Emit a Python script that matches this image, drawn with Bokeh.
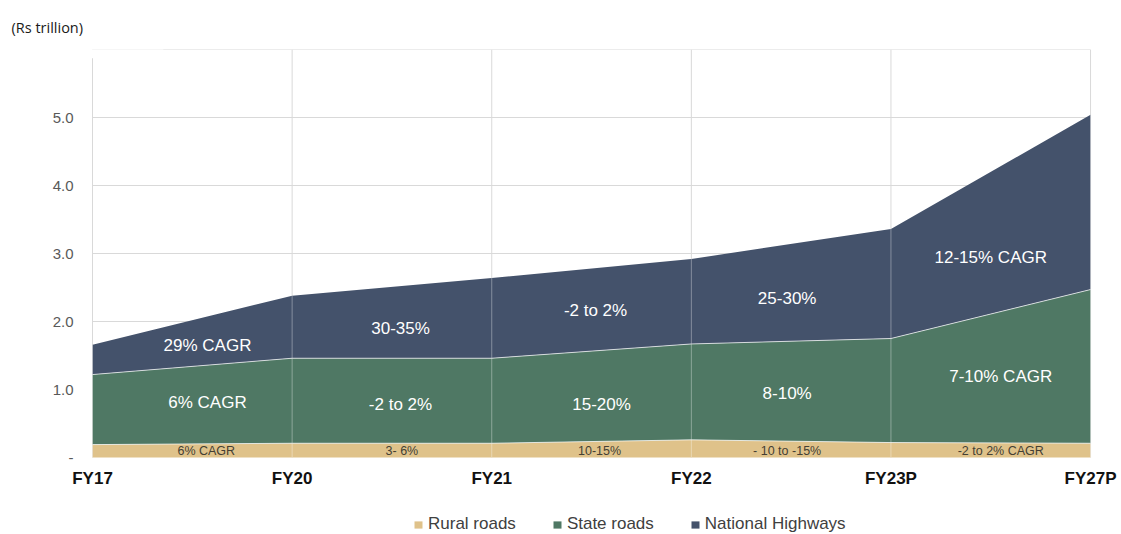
from bokeh.plotting import figure
from bokeh.models import ColumnDataSource, Range1d, Legend, LegendItem, BoxAnnotation
from bokeh.transform import stack
from bokeh.core.properties import value
from bokeh.embed import file_html
from bokeh.resources import INLINE

# ---------------- data ----------------
categories = ["FY17", "FY20", "FY21", "FY22", "FY23P", "FY27P"]
rural = [0.19, 0.21, 0.21, 0.26, 0.22, 0.21]
state = [1.03, 1.25, 1.25, 1.41, 1.53, 2.26]
national = [0.44, 0.92, 1.18, 1.25, 1.61, 2.57]
series_names = ["Rural roads", "State roads", "National Highways"]
national_labels = ["29% CAGR", "30-35%", "-2 to 2%", "25-30%", "12-15% CAGR"]
state_labels = ["6% CAGR", "-2 to 2%", "15-20%", "8-10%", "7-10% CAGR"]
rural_labels = ["6% CAGR", "3- 6%", "10-15%", "- 10 to -15%", "-2 to 2% CAGR"]
y_ticks = [0, 1, 2, 3, 4, 5, 6]
y_tick_labels = ["-", "1.0", "2.0", "3.0", "4.0", "5.0", ""]
unit_label = "(Rs trillion)"

# ---------------- style ----------------
colors = ["#DFC28A", "#4F7864", "#44526B"]
FONT = "Liberation Sans"
GRID = "#d9d9d9"

n = len(categories)
xs = list(range(n))
y_top = y_ticks[-1]
src = ColumnDataSource(dict(x=xs, rural=rural, state=state, national=national))

# frame covers the whole canvas below the title; axes are drawn as text
p = figure(width=1121, height=534, x_range=Range1d(-0.461, 5.155),
           y_range=Range1d(-1.132, y_top), output_backend="svg",
           toolbar_location=None, x_axis_location=None, y_axis_location=None,
           min_border_left=0, min_border_right=0, min_border_top=49,
           min_border_bottom=0)
p.outline_line_color = None
p.grid.visible = False
p.background_fill_color = "white"
p.border_fill_color = "white"

# unit label as left-aligned title
p.title.text = unit_label
p.title.align = "left"
p.title.offset = 11
p.title.standoff = 25
p.title.text_font = "Open Sans"
p.title.text_font_size = "14.5px"
p.title.text_font_style = "normal"
p.title.text_color = "#1a1a1a"

# gridlines
p.segment(x0=xs, y0=[0] * n, x1=xs, y1=[y_top] * n, line_color=GRID, line_width=1)
gy = y_ticks[1:]
p.segment(x0=[0] * len(gy), y0=gy, x1=[n - 1] * len(gy), y1=gy, line_color=GRID, line_width=1)

keys = ["rural", "state", "national"]
areas = p.varea_stack(keys, x="x", source=src, color=colors)

# thin white separators between areas
p.line(x="x", y=stack("rural"), source=src, line_color="white", line_alpha=0.7, line_width=1)
p.line(x="x", y=stack("rural", "state"), source=src, line_color="white", line_alpha=0.7, line_width=1)
# vertical gridlines visible over the fills
p.segment(x0="x", y0=0, x1="x", y1=stack("rural", "state", "national"), source=src,
          line_color="white", line_alpha=0.35, line_width=1)

# in-area labels
mid_nat_x = [0.576, 1.543, 2.52, 3.48, 4.50]
mid_nat_y = [1.65, 1.90, 2.16, 2.34, 2.94]
mid_state_x = [0.576, 1.543, 2.55, 3.48, 4.55]
mid_state_y = [0.81, 0.78, 0.78, 0.94, 1.19]
mid_rural_x = [0.57, 1.55, 2.54, 3.48, 4.55]
mid_rural_y = [0.09] * 5

p.text(x=mid_nat_x + mid_state_x, y=mid_nat_y + mid_state_y,
       text=national_labels + state_labels, text_color="white",
       text_font=value(FONT), text_font_size="17px",
       text_align="center", text_baseline="middle")
p.text(x=mid_rural_x, y=mid_rural_y, text=rural_labels, text_color="#443f33",
       text_font=value(FONT), text_font_size="12.5px",
       text_align="center", text_baseline="middle")

# category labels (x axis)
p.text(x=xs, y=[-0.31] * n, text=categories, text_color="#111111",
       text_font=value(FONT), text_font_size="17px", text_font_style="bold",
       text_align="center", text_baseline="middle")

# value labels (y axis)
p.text(x=[-0.095] * len(y_ticks), y=y_ticks, text=y_tick_labels, text_color="#595959",
       text_font=value(FONT), text_font_size="15px",
       text_align="right", text_baseline="middle")

# cover top-left corner like the reference
p.add_layout(BoxAnnotation(left=-0.2, right=0.355, bottom=5.87, top=6.3,
                           fill_color="white", fill_alpha=1, line_color=None,
                           level="overlay"))

# legend at the bottom of the frame
legend = Legend(items=[LegendItem(label=s, renderers=[r]) for s, r in zip(series_names, areas)],
                orientation="horizontal", location=(413, 0),
                label_text_font=FONT, label_text_font_size="17px",
                label_text_color="#404040", glyph_width=10, glyph_height=9,
                label_standoff=5, spacing=36, padding=0, margin=0,
                border_line_color=None, background_fill_alpha=0)
p.add_layout(legend)

open("out.html", "w").write(file_html(p, INLINE))
